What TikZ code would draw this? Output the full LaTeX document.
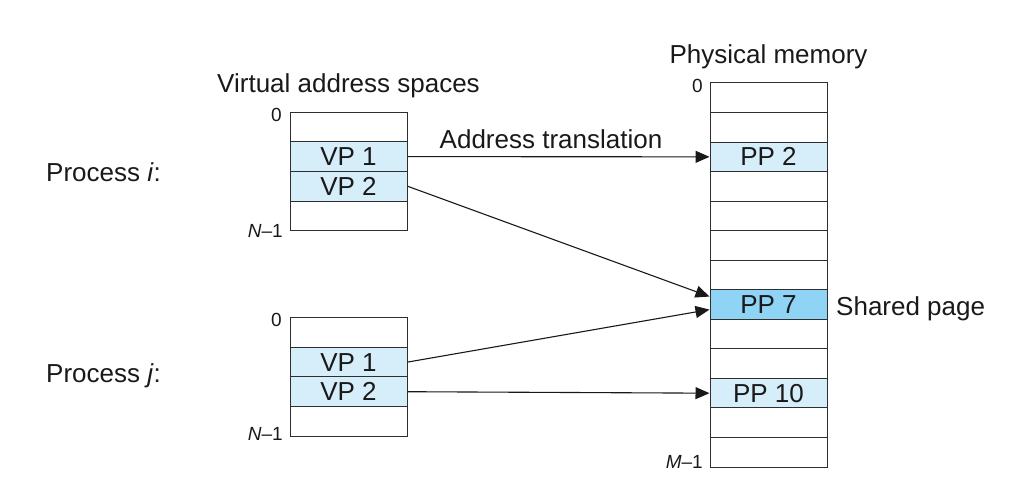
\documentclass[tikz,border=0pt]{standalone}
\usepackage{fontspec}
\setmainfont{Liberation Sans}
\usetikzlibrary{arrows.meta}
\definecolor{lineg}{HTML}{2E2E2E}
\definecolor{pagelt}{HTML}{D6EEFA}
\definecolor{pagedk}{HTML}{8FD3F5}
\tikzset{
  row/.style={draw=lineg, line width=1pt, minimum width=117pt, minimum height=29.6pt, inner sep=0pt, font=\fontsize{26}{28}\selectfont, text=black!90},
  used/.style={row, fill=pagelt},
  shared/.style={row, fill=pagedk},
  lbl/.style={font=\fontsize{26}{28}\selectfont, inner sep=0pt, text=black!90},
  small/.style={font=\fontsize{19}{21}\selectfont, inner sep=0pt, text=black!90},
  conn/.style={line width=1.1pt, draw=black!90, -{Triangle[length=14pt,width=12pt]}}
}
\begin{document}
\begin{tikzpicture}[x=1pt,y=-1pt]
\useasboundingbox (0,0) rectangle (1031,499);
% virtual i
\node[row]  (vi0) at (348.5,127) {};
\node[used] (vi1) at (348.5,156.6) {VP 1};
\node[used] (vi2) at (348.5,186.2) {VP 2};
\node[row]  (vi3) at (348.5,215.8) {};
% virtual j
\node[row]  (vj0) at (348.5,332.5) {};
\node[used] (vj1) at (348.5,362.1) {VP 1};
\node[used] (vj2) at (348.5,391.7) {VP 2};
\node[row]  (vj3) at (348.5,421.3) {};
% physical
\foreach \k in {0,1,3,4,5,6,8,9,11,12}{
  \node[row] (p\k) at (768.5,{83+29.54*(\k+0.5)}) {};
}
\node[used]   (p2)  at (768.5,{83+29.54*2.5}) {PP 2};
\node[shared] (p7)  at (768.5,{83+29.54*7.5}) {PP 7};
\node[used]   (p10) at (768.5,{83+29.54*10.5}) {PP 10};
% labels
\node[lbl] (tv) at (348.5,86) {Virtual address spaces};
\node[lbl] (tp) at (768.5,57) {Physical memory};
\node[lbl, anchor=west] (pi) at (46,172) {Process \textit{i}:};
\node[lbl, anchor=west] (pj) at (46,376) {Process \textit{j}:};
\node[lbl] (at) at (551,139) {Address translation};
\node[lbl, anchor=west] (sp) at (836,308.5) {Shared page};
\node[small, anchor=east] (zi) at (282,115) {0};
\node[small, anchor=east] (ni) at (283,231) {\textit{N}–1};
\node[small, anchor=east] (zj) at (282,320) {0};
\node[small, anchor=east] (nj) at (283,434) {\textit{N}–1};
\node[small, anchor=east] (zp) at (703,86) {0};
\node[small, anchor=east] (mp) at (703,462) {\textit{M}–1};
% connectors
\coordinate (p7a) at ([yshift=8pt]p7.west);
\coordinate (p7b) at ([yshift=-5pt]p7.west);
\draw[conn] (vi1.east) -- (p2.west);
\draw[conn] (vi2.east) -- (p7a);
\draw[conn] (vj1.east) -- (p7b);
\draw[conn] (vj2.east) -- (p10.west);
\end{tikzpicture}
\end{document}
